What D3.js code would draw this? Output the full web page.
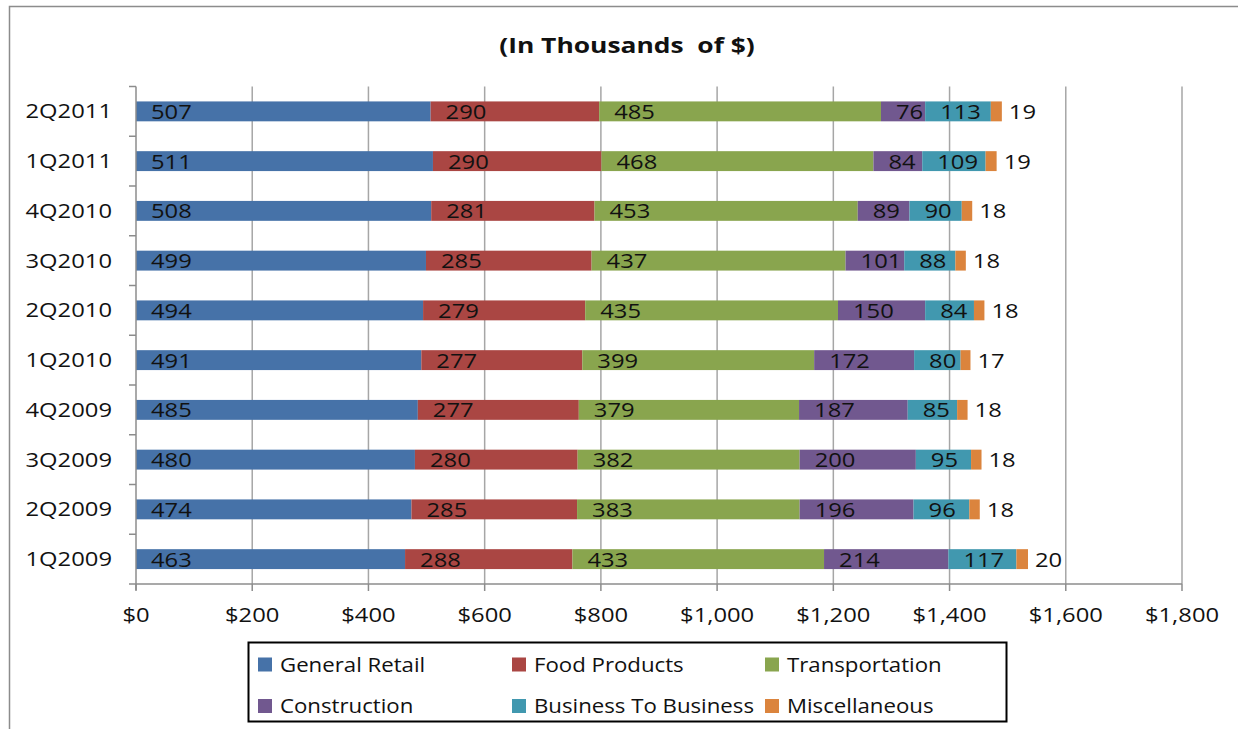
<!DOCTYPE html>
<html><head><meta charset="utf-8">
<script src="https://cdn.jsdelivr.net/npm/d3@7"></script>
<style>
html,body{margin:0;padding:0;background:#fff;}
svg{display:block;}
text{font-family:"Open Sans",sans-serif;fill:#111;}
</style></head>
<body>
<svg id="chart" width="1238" height="729"></svg>
<script>
const categories = ["2Q2011","1Q2011","4Q2010","3Q2010","2Q2010","1Q2010","4Q2009","3Q2009","2Q2009","1Q2009"];
const seriesNames = ["General Retail","Food Products","Transportation","Construction","Business To Business","Miscellaneous"];
const generalRetail = [507,511,508,499,494,491,485,480,474,463];
const foodProducts = [290,290,281,285,279,277,277,280,285,288];
const transportation = [485,468,453,437,435,399,379,382,383,433];
const construction = [76,84,89,101,150,172,187,200,196,214];
const businessToBusiness = [113,109,90,88,84,80,85,95,96,117];
const miscellaneous = [19,19,18,18,18,17,18,18,18,20];
const xTicks = [0,200,400,600,800,1000,1200,1400,1600,1800];
const titleText = "(In Thousands  of $)";
const colors = ["#4672A8","#AA4643","#89A54E","#71588F","#4198AF","#DB843D"];

const seriesValues = [generalRetail, foodProducts, transportation, construction, businessToBusiness, miscellaneous];
const rows = categories.map((c,i) => {
  const r = {cat:c};
  seriesNames.forEach((s,j) => r[s] = seriesValues[j][i]);
  return r;
});
const stacked = d3.stack().keys(seriesNames)(rows);

const svg = d3.select("#chart");
const SX = 1.22;
function stretchText(sel, px, py) {
  return sel.attr("transform", `translate(${px},${py}) scale(${SX},1)`);
}

// outer border
svg.append("path").attr("d","M9.5,729 L9.5,6.5 L1238,6.5")
  .attr("fill","none").attr("stroke","#8c8c8c").attr("stroke-width",1.5);

const x = d3.scaleLinear().domain([0,1800]).range([136,1182]);
const y = d3.scaleBand().domain(categories).range([86.5,584]).paddingInner(0.6).paddingOuter(0.3);
const step = y.step();
const plotTop = 86.5, plotBottom = 584;

// gridlines
svg.append("g").selectAll("line").data(xTicks.slice(1)).join("line")
  .attr("x1",d=>x(d)).attr("x2",d=>x(d)).attr("y1",plotTop).attr("y2",plotBottom)
  .attr("stroke","#a6a6a6").attr("stroke-width",1.5);

// bars
const g = svg.append("g");
stacked.forEach((layer,j) => {
  g.append("g").selectAll("rect").data(layer).join("rect")
    .attr("x",d=>x(d[0])).attr("width",d=>x(d[1])-x(d[0]))
    .attr("y",d=>y(d.data.cat)).attr("height",y.bandwidth())
    .attr("fill",colors[j]);
});

// axes
svg.append("line").attr("x1",136).attr("x2",136).attr("y1",plotTop).attr("y2",plotBottom+6)
  .attr("stroke","#8c8c8c").attr("stroke-width",1.5);
svg.append("line").attr("x1",136).attr("x2",1182).attr("y1",plotBottom).attr("y2",plotBottom)
  .attr("stroke","#8c8c8c").attr("stroke-width",1.5);
// y ticks at band boundaries
svg.append("g").selectAll("line").data(d3.range(categories.length+1)).join("line")
  .attr("x1",129).attr("x2",136).attr("y1",i=>plotTop+i*step).attr("y2",i=>plotTop+i*step)
  .attr("stroke","#8c8c8c").attr("stroke-width",1.5);
// x ticks
svg.append("g").selectAll("line").data(xTicks).join("line")
  .attr("x1",d=>x(d)).attr("x2",d=>x(d)).attr("y1",plotBottom).attr("y2",plotBottom+7)
  .attr("stroke","#8c8c8c").attr("stroke-width",1.5);

const fmt = d => "$" + d3.format(",")(d);
svg.append("g").selectAll("text").data(xTicks).join("text")
  .attr("text-anchor","middle").attr("font-size",19.5)
  .each(function(d){ stretchText(d3.select(this), x(d), 622); })
  .text(fmt);

svg.append("g").selectAll("text").data(categories).join("text")
  .attr("text-anchor","end").attr("font-size",19.5)
  .each(function(d){ stretchText(d3.select(this), 112, y(d)+y.bandwidth()/2+7); })
  .text(d=>d);

// data labels
stacked.forEach((layer,j) => {
  const last = j === stacked.length-1;
  g.append("g").selectAll("text").data(layer).join("text")
    .attr("font-size",19.5)
    .each(function(d){
      const px = last ? x(d[1]) + 7 : x(d[0]) + 15;
      stretchText(d3.select(this), px, y(d.data.cat)+y.bandwidth()/2+7.5);
    })
    .text(d=>d[1]-d[0]);
});

// title
svg.append("text").attr("text-anchor","middle").attr("font-size",22).attr("font-weight","bold")
  .style("white-space","pre")
  .attr("transform",`translate(627,53) scale(1.2,1)`).text(titleText);

// legend
const lg = svg.append("g");
lg.append("rect").attr("x",248.5).attr("y",642.5).attr("width",758).attr("height",79)
  .attr("fill","#fff").attr("stroke","#000").attr("stroke-width",2);
const colX = [258,512,765], rowY = [664.5,706];
seriesNames.forEach((s,i) => {
  const cx = colX[i%3], cy = rowY[Math.floor(i/3)];
  lg.append("rect").attr("x",cx).attr("y",cy-7).attr("width",14).attr("height",14).attr("fill",colors[i]);
  lg.append("text").attr("font-size",19.5)
    .attr("transform",`translate(${cx+22},${cy+7}) scale(1.14,1)`).text(s);
});
</script>
</body></html>
